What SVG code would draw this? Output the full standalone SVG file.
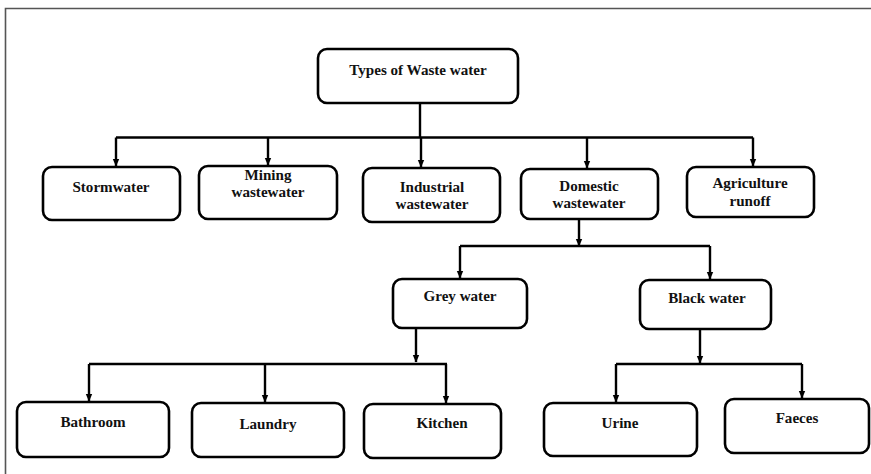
<svg xmlns="http://www.w3.org/2000/svg" width="871" height="474" viewBox="0 0 871 474" font-family="Liberation Serif, serif">
<style>
.box{fill:#fff;stroke:#000;stroke-width:2.6}
.lbl{font-family:'Liberation Serif',serif;font-weight:bold;font-size:15.1px;fill:#111;text-anchor:middle}
.ln{fill:none;stroke:#000;stroke-width:2.4}
</style>
<defs>
<marker id="ah" markerWidth="8" markerHeight="8" refX="7" refY="4" orient="auto" markerUnits="userSpaceOnUse">
<path d="M0,0.8 L7.5,4 L0,7.2 Z" fill="#000"/>
</marker>
</defs>
<rect width="871" height="474" fill="#fff"/>
<path d="M5.5,474 V8.5 H871" fill="none" stroke="#555" stroke-width="1.6"/>
<g id="connectors">
<path class="ln" d="M420,103 V137.5"/>
<path class="ln" d="M116,137.5 H753"/>
<path class="ln" d="M116,137.5 V166" marker-end="url(#ah)"/>
<path class="ln" d="M268,137.5 V165" marker-end="url(#ah)"/>
<path class="ln" d="M421,137.5 V167" marker-end="url(#ah)"/>
<path class="ln" d="M587,137.5 V168" marker-end="url(#ah)"/>
<path class="ln" d="M753,137.5 V166" marker-end="url(#ah)"/>
<path class="ln" d="M579,219 V246" marker-end="url(#ah)"/>
<path class="ln" d="M460,246 H710"/>
<path class="ln" d="M460,246 V278" marker-end="url(#ah)"/>
<path class="ln" d="M710,246 V279" marker-end="url(#ah)"/>
<path class="ln" d="M416,328 V362" marker-end="url(#ah)"/>
<path class="ln" d="M89,364 H447"/>
<path class="ln" d="M89,364 V401" marker-end="url(#ah)"/>
<path class="ln" d="M265,364 V402" marker-end="url(#ah)"/>
<path class="ln" d="M446,364 V403" marker-end="url(#ah)"/>
<path class="ln" d="M700,329 V363" marker-end="url(#ah)"/>
<path class="ln" d="M616,364 H802"/>
<path class="ln" d="M616,364 V402" marker-end="url(#ah)"/>
<path class="ln" d="M802,364 V398" marker-end="url(#ah)"/>
</g>
<g id="n-types"><rect class="box" x="318" y="49" width="200" height="54" rx="9"/><text class="lbl" x="418" y="75">Types of Waste water</text></g>
<g id="n-storm"><rect class="box" x="43" y="167" width="137" height="53" rx="9"/><text class="lbl" x="111" y="192">Stormwater</text></g>
<g id="n-mining"><rect class="box" x="199" y="166" width="138" height="53" rx="9"/><text class="lbl" x="268" y="180">Mining</text><text class="lbl" x="268" y="197">wastewater</text></g>
<g id="n-industrial"><rect class="box" x="363" y="168" width="137" height="54" rx="9"/><text class="lbl" x="432" y="192">Industrial</text><text class="lbl" x="432" y="209">wastewater</text></g>
<g id="n-domestic"><rect class="box" x="521" y="169" width="137" height="50" rx="9"/><text class="lbl" x="589" y="191">Domestic</text><text class="lbl" x="589" y="208">wastewater</text></g>
<g id="n-agri"><rect class="box" x="687" y="167" width="127" height="50" rx="9"/><text class="lbl" x="750" y="188">Agriculture</text><text class="lbl" x="750" y="206">runoff</text></g>
<g id="n-grey"><rect class="box" x="393" y="279" width="134" height="49" rx="9"/><text class="lbl" x="460" y="301">Grey water</text></g>
<g id="n-black"><rect class="box" x="640" y="280" width="131" height="49" rx="9"/><text class="lbl" x="707" y="303">Black water</text></g>
<g id="n-bath"><rect class="box" x="17" y="402" width="152" height="55" rx="9"/><text class="lbl" x="93" y="427">Bathroom</text></g>
<g id="n-laundry"><rect class="box" x="192" y="403" width="152" height="54" rx="9"/><text class="lbl" x="268" y="429">Laundry</text></g>
<g id="n-kitchen"><rect class="box" x="364" y="404" width="137" height="54" rx="9"/><text class="lbl" x="442" y="428">Kitchen</text></g>
<g id="n-urine"><rect class="box" x="544" y="403" width="153" height="53" rx="9"/><text class="lbl" x="620" y="428">Urine</text></g>
<g id="n-faeces"><rect class="box" x="725" y="399" width="144" height="54" rx="9"/><text class="lbl" x="797" y="423">Faeces</text></g>
</svg>
